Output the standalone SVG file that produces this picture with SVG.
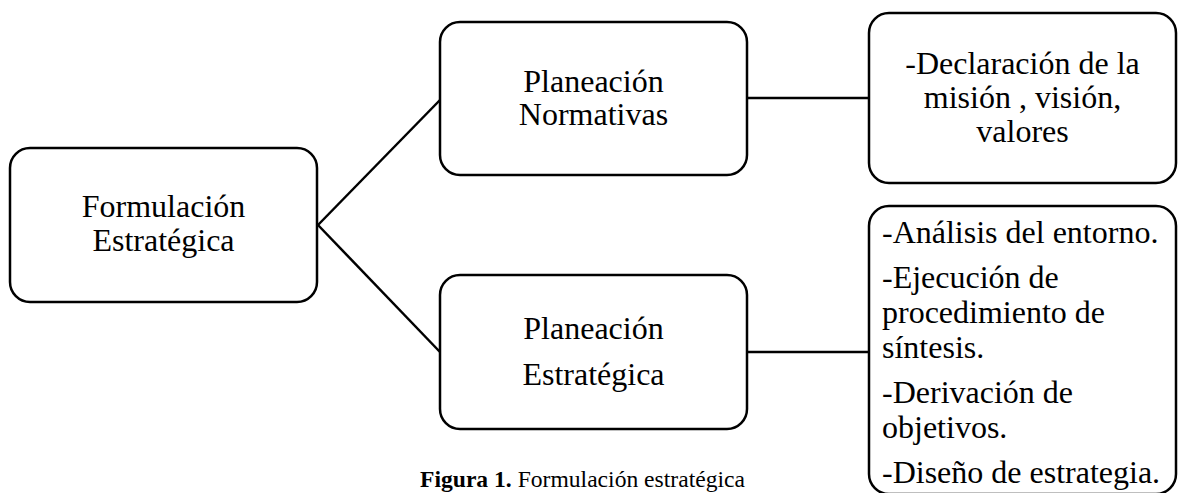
<svg xmlns="http://www.w3.org/2000/svg" width="1178" height="493" viewBox="0 0 1178 493">
<style>
.box{fill:#fff;stroke:#000;stroke-width:2.5}
.t{font-family:"Liberation Serif","Times New Roman",Times,serif;font-size:32px;fill:#000}
.c{text-anchor:middle}
.con{stroke:#000;stroke-width:2.5;fill:none}
.cap{font-family:"Liberation Serif","Times New Roman",Times,serif;font-size:23.6px;fill:#000}
</style>
<rect width="1178" height="493" fill="#fff"/>
<g id="connectors">
<line class="con" x1="318" y1="225" x2="440" y2="100"/>
<line class="con" x1="318" y1="225" x2="440" y2="352"/>
<line class="con" x1="747" y1="98" x2="869" y2="98"/>
<line class="con" x1="747" y1="352" x2="869" y2="352"/>
</g>
<g id="formulacion">
<rect class="box" x="10" y="148" width="307" height="154" rx="20"/>
<text class="t c" x="163.5" y="217">Formulación</text>
<text class="t c" x="163.5" y="251">Estratégica</text>
</g>
<g id="normativas">
<rect class="box" x="440" y="22" width="307" height="153" rx="20"/>
<text class="t c" x="593.5" y="92">Planeación</text>
<text class="t c" x="593.5" y="125">Normativas</text>
</g>
<g id="declaracion">
<rect class="box" x="869" y="13" width="307" height="170" rx="20"/>
<text class="t c" x="1022.5" y="74">-Declaración de la</text>
<text class="t c" x="1022.5" y="108">misión , visión,</text>
<text class="t c" x="1022.5" y="142">valores</text>
</g>
<g id="estrategica">
<rect class="box" x="440" y="275" width="307" height="154" rx="20"/>
<text class="t c" x="593.5" y="339">Planeación</text>
<text class="t c" x="593.5" y="385">Estratégica</text>
</g>
<g id="lista">
<rect class="box" x="869" y="206" width="307" height="288" rx="20"/>
<text class="t" x="882" y="243">-Análisis del entorno.</text>
<text class="t" x="882" y="288">-Ejecución de</text>
<text class="t" x="882" y="323">procedimiento de</text>
<text class="t" x="882" y="358">síntesis.</text>
<text class="t" x="882" y="403">-Derivación de</text>
<text class="t" x="882" y="438">objetivos.</text>
<text class="t" x="882" y="483">-Diseño de estrategia.</text>
</g>
<g id="caption">
<text class="cap" x="420" y="487"><tspan font-weight="bold">Figura 1.</tspan> Formulación estratégica</text>
</g>
</svg>
